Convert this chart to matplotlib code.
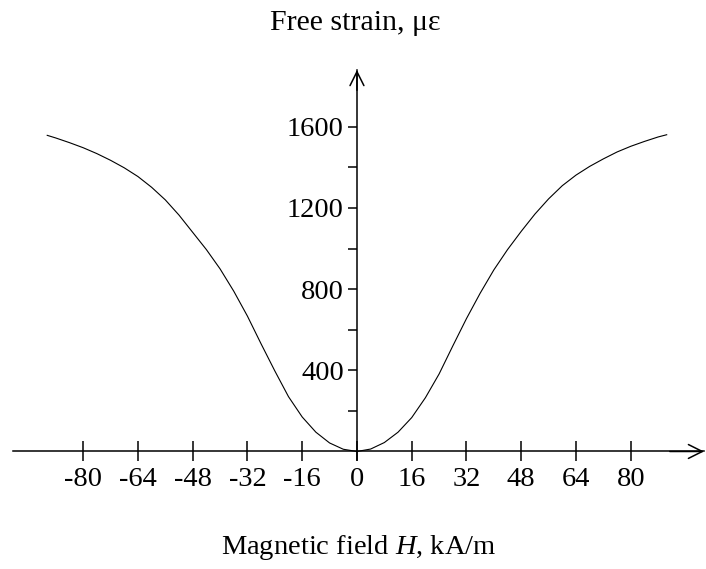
import matplotlib
matplotlib.use("Agg")
import matplotlib.pyplot as plt

# ═══ data ═══
field = [-90.5, -88, -84, -80, -76, -72, -68, -64, -60, -56, -52, -48, -44, -40,
         -36, -32, -28, -24, -20, -16, -12, -8, -4, 0,
         4, 8, 12, 16, 20, 24, 28, 32, 36, 40, 44, 48, 52, 56, 60, 64, 68, 72,
         76, 80, 84, 88, 90.5]
strain = [1558, 1545, 1522, 1497, 1468, 1435, 1398, 1355, 1302, 1240, 1165, 1080, 995, 900,
          790, 667, 530, 397, 270, 170, 95, 42, 11, 0,
          12, 44, 95, 167, 265, 382, 520, 655, 780, 895, 995, 1085, 1170, 1245, 1310, 1362, 1405, 1442,
          1476, 1504, 1528, 1550, 1561]

x_ticks = [-80, -64, -48, -32, -16, 0, 16, 32, 48, 64, 80]
y_major = [400, 800, 1200, 1600]
y_minor = [200, 600, 1000, 1400]

plt.rcParams['font.family'] = ['Liberation Serif', 'DejaVu Serif']
plt.rcParams['mathtext.fontset'] = 'custom'
plt.rcParams['mathtext.rm'] = 'Liberation Serif'
plt.rcParams['mathtext.it'] = 'Liberation Serif:italic'

W, H = 706, 569
fig = plt.figure(figsize=(W / 100, H / 100), dpi=100)
ax = fig.add_axes([13 / W, 1 - 460 / H, 691 / W, 390 / H])

XMIN, XMAX = -100.5, 101.4
YMIN, YMAX = -42, 1880
ax.set_xlim(XMIN, XMAX)
ax.set_ylim(YMIN, YMAX)

ax.plot(field, strain, color='black', lw=0.8)

# axes through the origin
for s in ('top', 'right'):
    ax.spines[s].set_visible(False)
ax.spines['left'].set_position(('data', 0))
ax.spines['bottom'].set_position(('data', 0))
ax.spines['left'].set_linewidth(1.1)
ax.spines['bottom'].set_linewidth(1.1)

arrow = dict(arrowstyle='->,head_length=0.5,head_width=0.25', lw=1.1,
             color='black', mutation_scale=20, shrinkA=0, shrinkB=0)
ax.annotate('', xy=(XMAX, 0), xytext=(XMAX - 10, 0), arrowprops=arrow, annotation_clip=False)
ax.annotate('', xy=(0, YMAX), xytext=(0, YMAX - 100), arrowprops=arrow, annotation_clip=False)

ax.set_xticks(x_ticks)
ax.set_xticklabels([str(v) for v in x_ticks])
ax.set_yticks(y_major)
ax.set_yticklabels([str(v) for v in y_major])
ax.set_yticks(y_minor, minor=True)

ax.tick_params(axis='x', direction='inout', length=14, width=1.1, labelsize=20.5, pad=4)
ax.tick_params(axis='y', which='both', direction='out', length=6.5, width=1.1, labelsize=20.5, pad=3)

fig.text(355 / W, 1 - 23 / H, 'Free strain, με', ha='center', va='center', fontsize=21.5)
fig.text(359 / W, 1 - 547 / H, 'Magnetic field $H$, kA/m', ha='center', va='center', fontsize=20.5)

fig.savefig('out.png', dpi=100, facecolor='white')
plt.close(fig)
